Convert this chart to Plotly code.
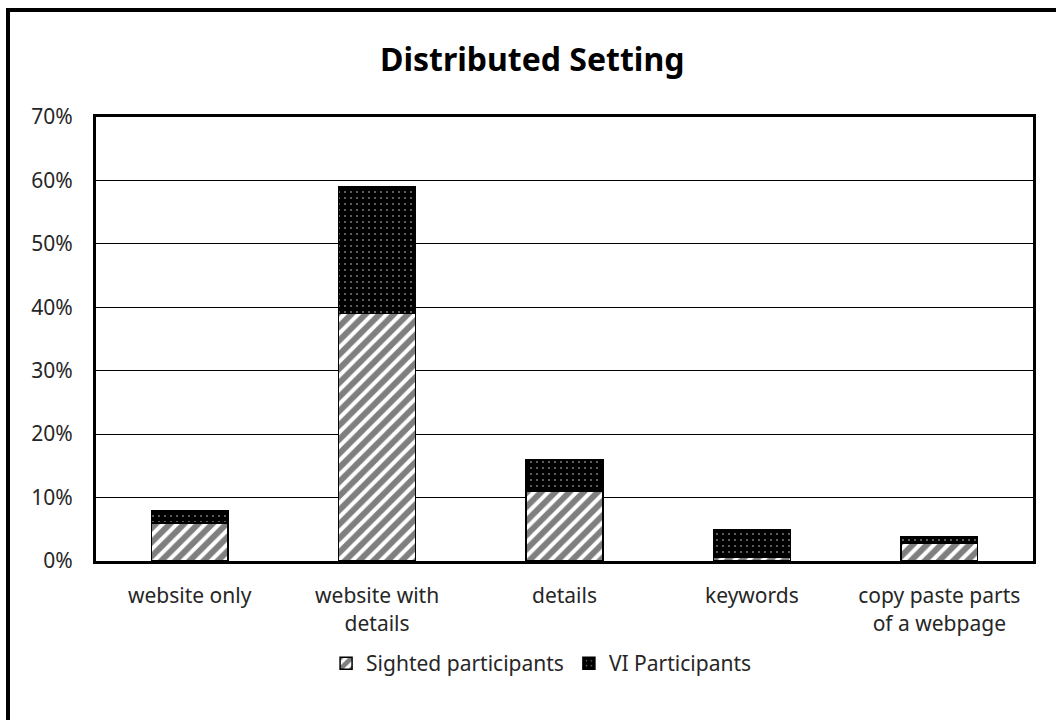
import plotly.graph_objects as go

categories = ["website only", "website with<br>details", "details", "keywords", "copy paste parts<br>of a webpage"]
sighted = [0.06, 0.39, 0.11, 0.006, 0.028]
vi = [0.02, 0.20, 0.05, 0.043, 0.011]
y_ticks = [0, 0.1, 0.2, 0.3, 0.4, 0.5, 0.6, 0.7]
y_labels = ["0%", "10%", "20%", "30%", "40%", "50%", "60%", "70%"]

FONT = "Noto Sans"
W, H = 1056, 720
L, R, T, B = 96, 23, 117, 159

fig = go.Figure()
fig.add_trace(go.Bar(
    x=categories, y=sighted, name="Sighted participants",
    marker=dict(color="white", line=dict(color="black", width=1.5),
                pattern=dict(shape="/", fgcolor="black", bgcolor="white", size=10, solidity=0.6)),
))
fig.add_trace(go.Bar(
    x=categories, y=vi, name="VI Participants",
    marker=dict(color="black", line=dict(color="black", width=1.5),
                pattern=dict(shape=".", fgcolor="white", bgcolor="black", size=6, solidity=0.08)),
))

pw = W - L - R
ph = H - T - B
fig.add_shape(type="rect", xref="paper", yref="paper",
              x0=(8 - L) / pw, x1=(1090 - L) / pw,
              y0=(H - 760 - B) / ph, y1=(H - 10 - B) / ph,
              line=dict(color="black", width=4), fillcolor="rgba(0,0,0,0)", layer="above")

fig.update_layout(
    width=W, height=H,
    barmode="stack", bargap=0.59,
    margin=dict(l=L, r=R, t=T, b=B),
    paper_bgcolor="white", plot_bgcolor="white",
    font=dict(family=FONT, size=21, color="#262626"),
    title=dict(text="<b>Distributed Setting</b>", x=0.504, xanchor="center", y=1 - 60 / H, yanchor="middle",
               xref="container", font=dict(family=FONT, size=32, color="black")),
    legend=dict(orientation="h", x=0.475, xanchor="center", y=-0.185, yanchor="top",
                font=dict(family=FONT, size=21, color="#262626"), traceorder="normal",
                itemwidth=30),
    showlegend=True,
)
fig.update_xaxes(showline=True, linecolor="black", linewidth=3, mirror=True,
                 showgrid=False, ticks="", tickfont=dict(size=21), ticklabelstandoff=14)
fig.update_yaxes(range=[0, 0.7], tickvals=y_ticks, ticktext=y_labels,
                 showline=True, linecolor="black", linewidth=3, mirror=True,
                 showgrid=True, gridcolor="black", gridwidth=1, zeroline=False,
                 ticks="", ticklabelstandoff=16, tickfont=dict(size=21))

fig.write_html("out.html", config={"displayModeBar": False},
               post_script="document.body.style.margin='0';")
